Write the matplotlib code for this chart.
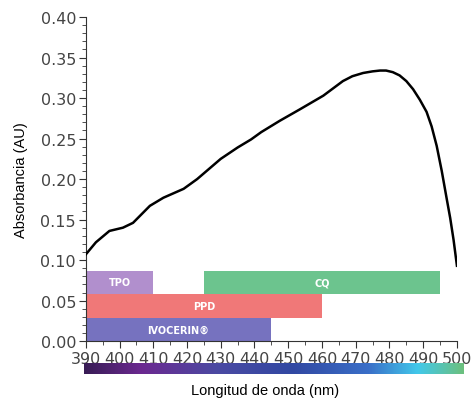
import matplotlib
matplotlib.use("Agg")
import matplotlib.pyplot as plt
import numpy as np
from matplotlib.colors import LinearSegmentedColormap
from matplotlib.ticker import MultipleLocator

# absorbance curve
wavelength = [390, 393, 397, 401, 404, 409, 413, 419, 423, 430, 435, 439, 442,
              447.5, 453.4, 460.4, 466.2, 469, 472.2, 475, 477.2, 479, 481,
              483, 485, 487, 489, 491, 492.5, 494, 495.5, 497, 498, 499, 500]
absorbance = [0.107, 0.122, 0.136, 0.140, 0.146, 0.167, 0.177, 0.188, 0.200,
              0.225, 0.239, 0.249, 0.258, 0.272, 0.286, 0.303, 0.321, 0.327,
              0.331, 0.333, 0.334, 0.334, 0.332, 0.328, 0.321, 0.311, 0.298,
              0.283, 0.265, 0.241, 0.210, 0.175, 0.152, 0.125, 0.093]

# photoinitiator ranges
names = ["IVOCERIN®", "PPD", "TPO", "CQ"]
starts = [390, 390, 390, 425]
ends = [445, 460, 410, 495]
rows = [0, 1, 2, 2]
colors = ["#7672bf", "#f07878", "#b18fcd", "#6cc48e"]

spectrum = ["#381c55", "#6b2990", "#4b4aa2", "#3148a2", "#3a6fc8", "#42c8ea", "#6cc07e"]
spectrum_pos = [0.0, 0.15, 0.35, 0.55, 0.75, 0.88, 1.0]

fig = plt.figure(figsize=(4.74, 4.02), dpi=100)
ax = fig.add_axes([0.181, 0.149, 0.783, 0.806])

band = 0.029
for n, s, e, r, c in zip(names, starts, ends, rows, colors):
    ax.barh(r * band + band / 2, e - s, left=s, height=band, color=c, zorder=1)
    ax.text((s + e) / 2, r * band + band / 2, n, color="white", ha="center",
            va="center", fontsize=7, fontweight="bold", zorder=2)

ax.plot(wavelength, absorbance, color="black", lw=1.8, zorder=3)

ax.set_xlim(390, 500)
ax.set_ylim(0, 0.40)
ax.xaxis.set_major_locator(MultipleLocator(10))
ax.xaxis.set_minor_locator(MultipleLocator(5))
ax.yaxis.set_major_locator(MultipleLocator(0.05))
ax.yaxis.set_minor_locator(MultipleLocator(0.01))
ax.yaxis.set_major_formatter(plt.FormatStrFormatter("%.2f"))
for sp in ["top", "right"]:
    ax.spines[sp].set_visible(False)
for sp in ["left", "bottom"]:
    ax.spines[sp].set_color("#333333")
ax.tick_params(which="major", length=5, color="#333333", labelsize=11.5,
               labelcolor="#444444", pad=2)
ax.tick_params(which="minor", length=3, color="#333333")
ax.set_ylabel("Absorbancia (AU)", fontsize=10.5, family="Liberation Sans", labelpad=9)

cax = fig.add_axes([0.177, 0.067, 0.800, 0.027])
cmap = LinearSegmentedColormap.from_list("spec", list(zip(spectrum_pos, spectrum)))
cax.imshow(np.linspace(0, 1, 256)[None, :], aspect="auto", cmap=cmap)
cax.set_xticks([])
cax.set_yticks([])
for sp in cax.spines.values():
    sp.set_visible(False)

fig.text(0.56, 0.027, "Longitud de onda (nm)", ha="center", va="center",
         fontsize=10.5, family="Liberation Sans")

fig.savefig("out.png", dpi=100)
